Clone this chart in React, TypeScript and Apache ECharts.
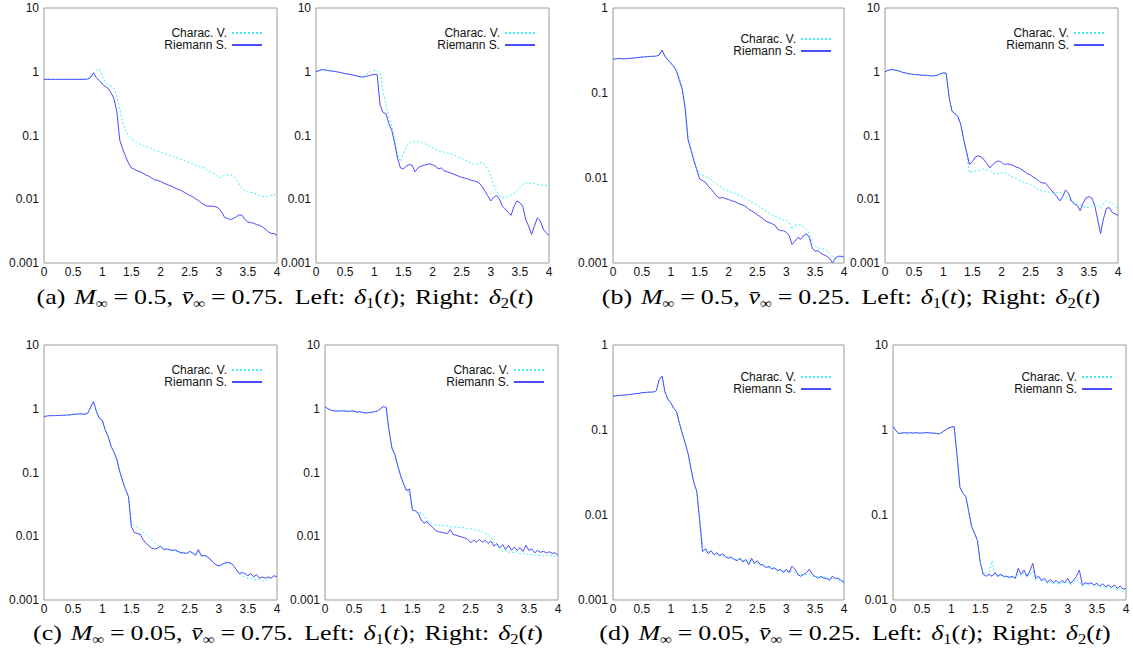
import { useEffect, useRef } from "react";
import * as echarts from "echarts";

// time samples shared by every curve
const T = [
  0, 0.05, 0.1, 0.15, 0.2, 0.25, 0.3, 0.35, 0.4, 0.45,
  0.5, 0.55, 0.6, 0.65, 0.7, 0.75, 0.8, 0.85, 0.9, 0.95,
  1, 1.05, 1.1, 1.15, 1.2, 1.25, 1.3, 1.35, 1.4, 1.45,
  1.5, 1.55, 1.6, 1.65, 1.7, 1.75, 1.8, 1.85, 1.9, 1.95,
  2, 2.05, 2.1, 2.15, 2.2, 2.25, 2.3, 2.35, 2.4, 2.45,
  2.5, 2.55, 2.6, 2.65, 2.7, 2.75, 2.8, 2.85, 2.9, 2.95,
  3, 3.05, 3.1, 3.15, 3.2, 3.25, 3.3, 3.35, 3.4, 3.45,
  3.5, 3.55, 3.6, 3.65, 3.7, 3.75, 3.8, 3.85, 3.9, 3.95,
  4,
];

const X_TICKS = { min: 0, max: 4, interval: 0.5 };
const SERIES_NAMES = ["Charac. V.", "Riemann S."];

// (a) M=0.5, v=0.75
const a1CV = [
  0.76, 0.76, 0.76, 0.76, 0.76, 0.76, 0.76, 0.76, 0.76, 0.76,
  0.76, 0.76, 0.76, 0.76, 0.76, 0.77, 0.8, 0.95, 1.08, 1.1,
  0.85, 0.7, 0.63, 0.6, 0.55, 0.42, 0.26, 0.16, 0.12, 0.1,
  0.088, 0.082, 0.077, 0.073, 0.07, 0.067, 0.065, 0.062, 0.059, 0.057,
  0.055, 0.053, 0.051, 0.049, 0.047, 0.045, 0.044, 0.042, 0.041, 0.039,
  0.037, 0.036, 0.034, 0.033, 0.032, 0.031, 0.029, 0.027, 0.026, 0.024,
  0.022, 0.022, 0.024, 0.024, 0.024, 0.023, 0.021, 0.017, 0.0145, 0.0135,
  0.013, 0.0128, 0.0125, 0.012, 0.0115, 0.011, 0.011, 0.011, 0.0115, 0.0118,
  0.0118,
];
const a1RS = [
  0.76, 0.76, 0.76, 0.76, 0.76, 0.76, 0.76, 0.76, 0.76, 0.76,
  0.76, 0.76, 0.76, 0.76, 0.76, 0.77, 0.82, 0.96, 0.8, 0.73,
  0.64, 0.59, 0.55, 0.47, 0.38, 0.24, 0.085, 0.062, 0.047, 0.037,
  0.031, 0.0295, 0.028, 0.027, 0.0255, 0.024, 0.023, 0.0215, 0.0202, 0.0198,
  0.019, 0.018, 0.0172, 0.0165, 0.0158, 0.015, 0.0143, 0.0138, 0.013, 0.0122,
  0.0115, 0.011, 0.0102, 0.0096, 0.0088, 0.0082, 0.0078, 0.0078, 0.0078, 0.0076,
  0.0072, 0.0063, 0.0052, 0.005, 0.0048, 0.005, 0.0053, 0.0057, 0.0056, 0.0048,
  0.0044, 0.0043, 0.0042, 0.004, 0.0039, 0.0037, 0.0034, 0.0031, 0.0029, 0.0029,
  0.0027,
];
const a2CV = [
  1.0, 1.04, 1.08, 1.07, 1.05, 1.03, 1.02, 1.0, 0.98, 0.96,
  0.93, 0.92, 0.9, 0.88, 0.86, 0.84, 0.83, 0.88, 0.95, 1.02,
  1.05, 1.05, 0.95, 0.5, 0.3, 0.2, 0.14, 0.09, 0.05, 0.039,
  0.053, 0.067, 0.076, 0.08, 0.082, 0.081, 0.079, 0.075, 0.072, 0.068,
  0.065, 0.061, 0.058, 0.056, 0.055, 0.053, 0.052, 0.05, 0.048, 0.046,
  0.044, 0.042, 0.04, 0.038, 0.036, 0.035, 0.036, 0.038, 0.035, 0.029,
  0.023, 0.017, 0.0134, 0.0113, 0.0105, 0.0105, 0.011, 0.0118, 0.0126, 0.0138,
  0.015, 0.017, 0.018, 0.018, 0.018, 0.0175, 0.017, 0.0167, 0.0165, 0.0165,
  0.0165,
];
const a2RS = [
  1.0, 1.04, 1.08, 1.07, 1.05, 1.03, 1.02, 1.0, 0.98, 0.96,
  0.93, 0.92, 0.9, 0.88, 0.86, 0.84, 0.82, 0.84, 0.86, 0.89,
  0.91, 0.9, 0.3, 0.23, 0.22, 0.155, 0.12, 0.076, 0.044, 0.031,
  0.03, 0.033, 0.035, 0.034, 0.027, 0.031, 0.033, 0.034, 0.035, 0.036,
  0.035, 0.033, 0.03, 0.031, 0.028, 0.027, 0.026, 0.025, 0.024, 0.023,
  0.022, 0.0215, 0.021, 0.02, 0.0195, 0.019, 0.018, 0.016, 0.0134, 0.0113,
  0.0094, 0.0107, 0.0115, 0.01, 0.0078, 0.007, 0.0062, 0.0056, 0.0078, 0.0094,
  0.0088, 0.0078, 0.0048, 0.0038, 0.0028, 0.0038, 0.0051, 0.0046, 0.0034, 0.003,
  0.0027,
];

// (b) M=0.5, v=0.25
const b1CV = [
  0.25, 0.252, 0.255, 0.253, 0.252, 0.255, 0.255, 0.258, 0.26, 0.262,
  0.265, 0.266, 0.268, 0.27, 0.27, 0.272, 0.28, 0.32, 0.27, 0.25,
  0.23, 0.21, 0.19, 0.15, 0.115, 0.07, 0.03, 0.022, 0.0165, 0.013,
  0.011, 0.0108, 0.0105, 0.01, 0.0095, 0.009, 0.0085, 0.008, 0.0075, 0.0072,
  0.007, 0.0068, 0.0067, 0.0064, 0.0062, 0.006, 0.0057, 0.0055, 0.0052, 0.005,
  0.0048, 0.0045, 0.0043, 0.0041, 0.0039, 0.0037, 0.0036, 0.0034, 0.0033, 0.0032,
  0.0032, 0.003, 0.0025, 0.0028, 0.0028, 0.0028, 0.0027, 0.0025, 0.0022, 0.0017,
  0.0016, 0.0015, 0.0015, 0.00145, 0.0014, 0.0013, 0.0012, 0.00115, 0.0011, 0.0012,
  0.0012,
];
const b1RS = [
  0.25, 0.252, 0.255, 0.253, 0.252, 0.255, 0.255, 0.258, 0.26, 0.262,
  0.265, 0.266, 0.268, 0.27, 0.27, 0.272, 0.28, 0.32, 0.27, 0.245,
  0.225, 0.205, 0.18, 0.14, 0.11, 0.065, 0.028, 0.0215, 0.016, 0.0125,
  0.0097, 0.0093, 0.0089, 0.008, 0.0074, 0.0067, 0.0061, 0.0058, 0.0059, 0.0057,
  0.0056, 0.0054, 0.0053, 0.0051, 0.0049, 0.0048, 0.0046, 0.0043, 0.0041, 0.0039,
  0.0037, 0.0035, 0.0033, 0.0031, 0.003, 0.0029, 0.0028, 0.0025, 0.0024, 0.0024,
  0.0023, 0.0021, 0.00165, 0.0018, 0.002, 0.0019, 0.0021, 0.0022, 0.002, 0.0015,
  0.00137, 0.0014, 0.0013, 0.00125, 0.0012, 0.00114, 0.001, 0.00114, 0.0012, 0.0012,
  0.00117,
];
const b2CV = [
  1.0, 1.05, 1.08, 1.07, 1.05, 1.02, 0.98, 0.96, 0.93, 0.92,
  0.9, 0.9, 0.89, 0.88, 0.88, 0.87, 0.86, 0.87, 0.88, 0.93,
  0.96, 0.95, 0.42, 0.24, 0.22, 0.2, 0.15, 0.09, 0.05, 0.026,
  0.027, 0.028, 0.028, 0.029, 0.03, 0.029, 0.028, 0.026, 0.025, 0.025,
  0.026, 0.026, 0.025, 0.023, 0.022, 0.021, 0.02, 0.019, 0.018, 0.0175,
  0.017, 0.016, 0.015, 0.014, 0.0134, 0.013, 0.013, 0.0128, 0.0125, 0.0128,
  0.013, 0.012, 0.011, 0.01, 0.0094, 0.009, 0.0088, 0.0082, 0.0077, 0.0075,
  0.0074, 0.008, 0.0087, 0.008, 0.0074, 0.0085, 0.0094, 0.009, 0.0087, 0.0078,
  0.007,
];
const b2RS = [
  1.0, 1.05, 1.08, 1.07, 1.05, 1.02, 0.98, 0.96, 0.93, 0.92,
  0.9, 0.9, 0.89, 0.88, 0.88, 0.87, 0.86, 0.87, 0.88, 0.93,
  0.96, 0.95, 0.4, 0.24, 0.22, 0.2, 0.15, 0.087, 0.056, 0.035,
  0.039, 0.046, 0.048, 0.046, 0.042, 0.036, 0.031, 0.035, 0.038, 0.04,
  0.038, 0.035, 0.036, 0.035, 0.034, 0.032, 0.031, 0.029, 0.027, 0.025,
  0.024, 0.022, 0.021, 0.019, 0.018, 0.018, 0.016, 0.014, 0.0125, 0.011,
  0.0094, 0.011, 0.014, 0.0125, 0.0094, 0.0084, 0.008, 0.0066, 0.0087, 0.0105,
  0.011, 0.0105, 0.008, 0.0049, 0.0029, 0.0049, 0.0072, 0.0074, 0.0062, 0.0059,
  0.0056,
];

// (c) M=0.05, v=0.75
const c1CV = [
  0.75, 0.77, 0.78, 0.78, 0.78, 0.785, 0.79, 0.79, 0.8, 0.8,
  0.82, 0.82, 0.83, 0.83, 0.82, 0.85, 1.06, 1.3, 0.9, 0.71,
  0.66, 0.47, 0.37, 0.26, 0.21, 0.16, 0.104, 0.073, 0.054, 0.042,
  0.016, 0.0148, 0.014, 0.0128, 0.0118, 0.0105, 0.0095, 0.0087, 0.008, 0.0074,
  0.0069, 0.0064, 0.0062, 0.0061, 0.006, 0.0059, 0.0057, 0.0055, 0.0054, 0.0053,
  0.0056, 0.0054, 0.0051, 0.006, 0.005, 0.0051, 0.0048, 0.0044, 0.0039, 0.0036,
  0.0034, 0.0035, 0.0037, 0.0038, 0.0038, 0.0035, 0.003, 0.0026, 0.0024, 0.0023,
  0.0022, 0.0022, 0.0021, 0.0021, 0.0021, 0.002, 0.002, 0.0022, 0.0023, 0.0024,
  0.0024,
];
const c1RS = [
  0.75, 0.77, 0.78, 0.78, 0.78, 0.785, 0.79, 0.79, 0.8, 0.8,
  0.82, 0.82, 0.83, 0.83, 0.82, 0.85, 1.06, 1.3, 0.9, 0.71,
  0.66, 0.47, 0.37, 0.26, 0.21, 0.16, 0.104, 0.073, 0.054, 0.042,
  0.014, 0.0115, 0.011, 0.0108, 0.0089, 0.0078, 0.0071, 0.0065, 0.0063, 0.0065,
  0.007, 0.0062, 0.0063, 0.0062, 0.006, 0.0061, 0.0058, 0.0055, 0.0055, 0.0054,
  0.0058, 0.0055, 0.005, 0.0062, 0.0049, 0.005, 0.0048, 0.0044, 0.0039, 0.0036,
  0.0034, 0.0036, 0.0038, 0.0039, 0.0038, 0.0035, 0.003, 0.0026, 0.0027, 0.0026,
  0.0024, 0.0026, 0.0023, 0.0025, 0.0022, 0.0023, 0.0022, 0.0023, 0.0022, 0.0024,
  0.0023,
];
const c2CV = [
  1.08, 1.0, 0.95, 0.93, 0.92, 0.92, 0.93, 0.92, 0.91, 0.92,
  0.92, 0.88, 0.9, 0.87, 0.86, 0.87, 0.88, 0.9, 0.92, 1.0,
  1.08, 1.05, 0.45, 0.24, 0.19, 0.125, 0.088, 0.066, 0.052, 0.05,
  0.026, 0.025, 0.023, 0.0235, 0.021, 0.018, 0.0165, 0.0155, 0.015, 0.0149,
  0.0148, 0.0146, 0.0145, 0.0142, 0.014, 0.0139, 0.0138, 0.0137, 0.0135, 0.0133,
  0.013, 0.0128, 0.0125, 0.0122, 0.0118, 0.011, 0.0105, 0.0095, 0.0082, 0.0072,
  0.0062, 0.0058, 0.006, 0.0056, 0.0057, 0.0055, 0.0058, 0.0053, 0.0054, 0.0052,
  0.0052, 0.0051, 0.0051, 0.005, 0.005, 0.0049, 0.0051, 0.0049, 0.005, 0.0048,
  0.0049,
];
const c2RS = [
  1.08, 1.0, 0.95, 0.93, 0.92, 0.92, 0.93, 0.92, 0.91, 0.92,
  0.92, 0.88, 0.9, 0.87, 0.86, 0.87, 0.88, 0.9, 0.92, 1.0,
  1.08, 1.05, 0.45, 0.24, 0.19, 0.125, 0.088, 0.066, 0.052, 0.055,
  0.026, 0.025, 0.023, 0.018, 0.016, 0.017, 0.015, 0.0138, 0.0123, 0.0117,
  0.0116, 0.0113, 0.011, 0.0127, 0.0107, 0.0104, 0.01, 0.0097, 0.0094, 0.0089,
  0.0079, 0.0087, 0.0081, 0.0089, 0.0081, 0.0086, 0.0077, 0.0084, 0.007, 0.0077,
  0.0066, 0.0074, 0.0062, 0.0072, 0.006, 0.0068, 0.006, 0.0066, 0.0058, 0.0072,
  0.006, 0.0063, 0.0055, 0.006, 0.0056, 0.0058, 0.0055, 0.0057, 0.0054, 0.0055,
  0.005,
];

// (d) M=0.05, v=0.25
const d1CV = [
  0.25, 0.252, 0.255, 0.256, 0.258, 0.26, 0.262, 0.265, 0.268, 0.27,
  0.275, 0.276, 0.278, 0.279, 0.28, 0.29, 0.39, 0.43, 0.28, 0.23,
  0.21, 0.18, 0.165, 0.12, 0.091, 0.07, 0.053, 0.035, 0.024, 0.019,
  0.0088, 0.0045, 0.0041, 0.0037, 0.0037, 0.0035, 0.0035, 0.0034, 0.0034, 0.0033,
  0.0032, 0.0031, 0.003, 0.003, 0.003, 0.0029, 0.0029, 0.0028, 0.0029, 0.0027,
  0.0027, 0.0026, 0.0025, 0.0025, 0.0024, 0.0024, 0.0023, 0.0023, 0.0022, 0.0022,
  0.0022, 0.0021, 0.0022, 0.0021, 0.002, 0.002, 0.002, 0.002, 0.002, 0.0019,
  0.0019, 0.0019, 0.0018, 0.0019, 0.0018, 0.0018, 0.0018, 0.0018, 0.0017, 0.0017,
  0.0017,
];
const d1RS = [
  0.25, 0.252, 0.255, 0.256, 0.258, 0.26, 0.262, 0.265, 0.268, 0.27,
  0.275, 0.276, 0.278, 0.279, 0.28, 0.29, 0.39, 0.43, 0.28, 0.23,
  0.21, 0.18, 0.165, 0.12, 0.091, 0.07, 0.053, 0.035, 0.024, 0.019,
  0.0088, 0.0037, 0.004, 0.0035, 0.0038, 0.0034, 0.0036, 0.0033, 0.0035, 0.0032,
  0.0031, 0.0032, 0.003, 0.0029, 0.0031, 0.0028, 0.003, 0.0026, 0.0031, 0.0027,
  0.0029, 0.0026, 0.0026, 0.0024, 0.0025, 0.0023, 0.0024, 0.0022, 0.0023, 0.0021,
  0.0023, 0.0021, 0.0025, 0.0023, 0.002, 0.0019, 0.002, 0.0021, 0.0023, 0.002,
  0.0019, 0.0018, 0.0019, 0.0018, 0.0018, 0.0017, 0.0019, 0.0018, 0.0018, 0.0017,
  0.0016,
];
const d2CV = [
  1.1, 0.98, 0.91, 0.92, 0.93, 0.92, 0.93, 0.92, 0.93, 0.92,
  0.92, 0.93, 0.93, 0.92, 0.92, 0.91, 0.9, 0.95, 1.0, 1.05,
  1.08, 1.1, 0.5, 0.21, 0.18, 0.165, 0.11, 0.073, 0.061, 0.05,
  0.027, 0.02, 0.021, 0.02, 0.029, 0.02, 0.019, 0.0195, 0.0185, 0.019,
  0.018, 0.0185, 0.018, 0.02, 0.019, 0.021, 0.0185, 0.02, 0.022, 0.017,
  0.018, 0.0165, 0.017, 0.0158, 0.0165, 0.0155, 0.016, 0.015, 0.0165, 0.0155,
  0.0165, 0.015, 0.016, 0.0175, 0.0165, 0.0145, 0.0155, 0.0148, 0.016, 0.0145,
  0.015, 0.014, 0.0148, 0.0138, 0.0145, 0.0135, 0.014, 0.013, 0.0135, 0.0125,
  0.0125,
];
const d2RS = [
  1.1, 0.98, 0.91, 0.92, 0.93, 0.92, 0.93, 0.92, 0.93, 0.92,
  0.92, 0.93, 0.93, 0.92, 0.92, 0.91, 0.9, 0.95, 1.0, 1.05,
  1.08, 1.1, 0.5, 0.21, 0.18, 0.165, 0.11, 0.073, 0.061, 0.05,
  0.027, 0.02, 0.019, 0.02, 0.019, 0.021, 0.019, 0.02, 0.019, 0.019,
  0.0185, 0.019, 0.018, 0.0236, 0.02, 0.0225, 0.019, 0.022, 0.027, 0.018,
  0.019, 0.017, 0.018, 0.016, 0.0175, 0.016, 0.017, 0.0157, 0.017, 0.016,
  0.018, 0.0157, 0.017, 0.019, 0.0225, 0.015, 0.016, 0.0155, 0.016, 0.015,
  0.0157, 0.0146, 0.0155, 0.0144, 0.015, 0.0141, 0.015, 0.0137, 0.0146, 0.0134,
  0.0137,
];

// y-axis range of every panel (log scale)
const Y_RANGES = [
  [0.001, 10], [0.001, 10], [0.001, 1], [0.001, 10],
  [0.001, 10], [0.001, 10], [0.001, 1], [0.01, 10],
];
const CURVES = [
  [a1CV, a1RS], [a2CV, a2RS], [b1CV, b1RS], [b2CV, b2RS],
  [c1CV, c1RS], [c2CV, c2RS], [d1CV, d1RS], [d2CV, d2RS],
];

// panel boxes in pixels: left, top, width, height, legend top offset, legend right inset
const BOXES = [
  [44, 8, 233, 255, 19, 14],
  [316, 8, 233, 255, 19, 13],
  [613, 8, 231, 255, 25, 12],
  [885, 8, 233, 255, 19, 13],
  [44, 345, 233, 255, 19, 14],
  [325, 345, 233, 255, 19, 13],
  [613, 345, 231, 255, 26, 12],
  [893, 345, 233, 255, 26, 13],
];

const CAPTIONS = [
  { tag: "(a)", m: "0.5", v: "0.75", x: 285, y: 297 },
  { tag: "(b)", m: "0.5", v: "0.25", x: 851, y: 297 },
  { tag: "(c)", m: "0.05", v: "0.75", x: 288, y: 633 },
  { tag: "(d)", m: "0.05", v: "0.25", x: 855, y: 633 },
];

const W = 1133;
const H = 653;
const SANS = "'Liberation Sans', Arial, Helvetica, sans-serif";
const SERIF = "'Liberation Serif', 'DejaVu Serif', serif";
const CV_COLOR = "#3ff0f4";
const RS_COLOR = "#4a4aff";

function buildOption() {
  const grid = BOXES.map(([l, t, w, h]) => ({
    left: l,
    top: t,
    width: w,
    height: h,
    show: true,
    borderColor: "#9b9b9b",
    borderWidth: 1,
    backgroundColor: "transparent",
  }));

  const xAxis = BOXES.map((_, i) => ({
    type: "value",
    gridIndex: i,
    min: X_TICKS.min,
    max: X_TICKS.max,
    interval: X_TICKS.interval,
    axisLine: { show: false },
    axisTick: { show: false },
    splitLine: { show: false },
    axisLabel: {
      margin: 3,
      fontSize: 12,
      color: "#111",
      fontFamily: SANS,
      showMinLabel: true,
      showMaxLabel: true,
    },
  }));

  const yAxis = BOXES.map((_, i) => ({
    type: "log",
    logBase: 10,
    gridIndex: i,
    min: Y_RANGES[i][0],
    max: Y_RANGES[i][1],
    axisLine: { show: false },
    axisTick: { show: false },
    splitLine: { show: false },
    axisLabel: {
      margin: 5,
      fontSize: 12,
      color: "#111",
      fontFamily: SANS,
      showMinLabel: true,
      showMaxLabel: true,
      formatter: (v: number) => String(Number(v.toPrecision(3))),
    },
  }));

  const series: any[] = [];
  CURVES.forEach(([cv, rs], i) => {
    series.push({
      type: "line",
      name: SERIES_NAMES[0],
      xAxisIndex: i,
      yAxisIndex: i,
      data: T.map((t, j) => [t, cv[j]]),
      showSymbol: false,
      symbol: "none",
      lineStyle: { color: CV_COLOR, width: 1, type: [2, 2] },
      itemStyle: { color: CV_COLOR },
      silent: true,
    });
    series.push({
      type: "line",
      name: SERIES_NAMES[1],
      xAxisIndex: i,
      yAxisIndex: i,
      data: T.map((t, j) => [t, rs[j]]),
      showSymbol: false,
      symbol: "none",
      lineStyle: { color: RS_COLOR, width: 1 },
      itemStyle: { color: RS_COLOR },
      silent: true,
    });
  });

  const legend = BOXES.map(([l, t, w, , lt, lr]) => ({
    data: SERIES_NAMES,
    orient: "vertical",
    align: "right",
    right: W - (l + w - lr),
    top: t + lt,
    padding: 0,
    itemGap: 0,
    itemWidth: 30,
    itemHeight: 1,
    selectedMode: false,
    itemStyle: { opacity: 0 },
    textStyle: { fontSize: 12, lineHeight: 12, color: "#111", fontFamily: SANS },
  }));

  const base = { fontFamily: SERIF, fontSize: 22, color: "#111", lineHeight: 26 };
  const rich = {
    n: { ...base },
    i: { ...base, fontStyle: "italic" },
    s: { fontFamily: SERIF, fontSize: 14, color: "#111", lineHeight: 14, verticalAlign: "bottom" },
    e: { ...base, padding: [0, 5, 0, 5] },
    g: { ...base, padding: [0, 1, 0, 1] },
    w: { ...base, padding: [0, 2, 0, 2] },
  };

  const graphic = CAPTIONS.map((c) => ({
    type: "text",
    x: c.x,
    y: c.y,
    scaleX: 1.18,
    silent: true,
    style: {
      text:
        `{n|${c.tag}}{g| }{i|M}{s|\u221E}{e|=}{n|${c.m},}{g| }{i|v\u0304}{s|\u221E}{e|=}{n|${c.v}.}{w| }` +
        `{n|Left:}{g| }{i|\u03B4}{s|1}{n|(}{i|t}{n|);}{g| }{n|Right:}{g| }{i|\u03B4}{s|2}{n|(}{i|t}{n|)}`,
      rich,
      align: "center",
      verticalAlign: "middle",
    },
  }));

  return {
    animation: false,
    backgroundColor: "#ffffff",
    grid,
    xAxis,
    yAxis,
    series,
    legend,
    graphic,
  };
}

export default function App() {
  const ref = useRef<HTMLDivElement>(null);

  useEffect(() => {
    if (!ref.current) return;
    const chart = echarts.init(ref.current, undefined, { renderer: "svg" });
    chart.setOption(buildOption() as any);
    return () => chart.dispose();
  }, []);

  return (
    <div
      ref={ref}
      style={{ position: "absolute", left: 0, top: 0, width: W, height: H, background: "#fff" }}
    />
  );
}
